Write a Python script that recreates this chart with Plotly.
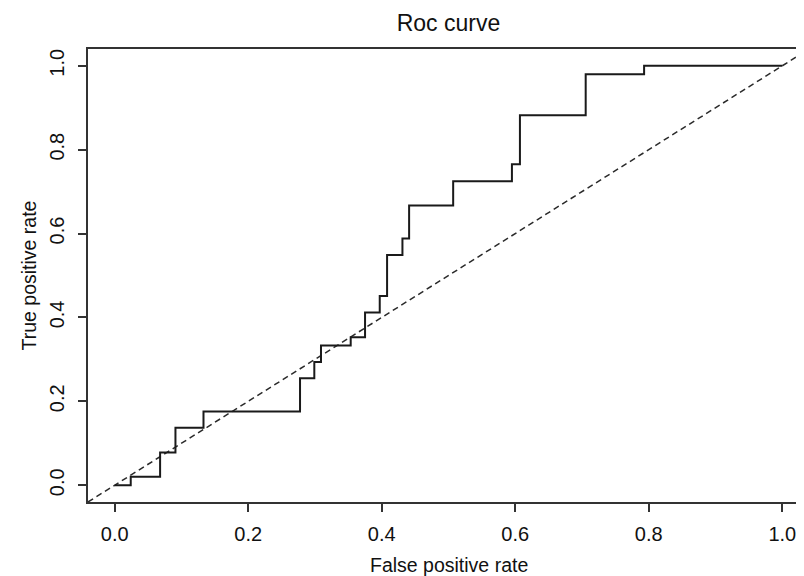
import plotly.graph_objects as go

# ROC curve vertices (false positive rate, true positive rate)
fpr = [0.0, 0.024, 0.024, 0.068, 0.068, 0.091, 0.091, 0.133, 0.133, 0.2776, 0.2776,
       0.299, 0.299, 0.309, 0.309, 0.3535, 0.3535, 0.375, 0.375, 0.397, 0.397,
       0.408, 0.408, 0.431, 0.431, 0.441, 0.441, 0.507, 0.507, 0.595, 0.595,
       0.607, 0.607, 0.7055, 0.7055, 0.793, 0.793, 1.0]
tpr = [0.0, 0.0, 0.020, 0.020, 0.078, 0.078, 0.137, 0.137, 0.176, 0.176, 0.255,
       0.255, 0.294, 0.294, 0.333, 0.333, 0.353, 0.353, 0.412, 0.412, 0.451,
       0.451, 0.549, 0.549, 0.588, 0.588, 0.667, 0.667, 0.725, 0.725, 0.765,
       0.765, 0.882, 0.882, 0.980, 0.980, 1.0, 1.0]

# Chance diagonal (abline 0,1) spanning the whole axis range
axis_range = [-0.04, 1.04]
tick_vals = [0.0, 0.2, 0.4, 0.6, 0.8, 1.0]
tick_text = ["0.0", "0.2", "0.4", "0.6", "0.8", "1.0"]

FONT = "Liberation Sans, Arial, sans-serif"
INK = "#111111"

W, H = 804, 576
ML, MR, MT, MB = 80, 3, 41, 82
PW, PH = W - ML - MR, H - MT - MB

fig = go.Figure()
fig.add_trace(go.Scatter(
    x=axis_range, y=axis_range, mode="lines",
    line=dict(color="#2a2a2a", width=1.5, dash="6px,4px"),
    hoverinfo="skip", showlegend=False))
fig.add_trace(go.Scatter(
    x=fpr, y=tpr, mode="lines",
    line=dict(color="#1a1a1a", width=2),
    showlegend=False))

axis_common = dict(
    range=axis_range, tickmode="array", tickvals=tick_vals, ticktext=tick_text,
    showgrid=False, zeroline=False, showline=True, mirror=True,
    linecolor="#333333", linewidth=1.5, automargin=False,
    ticks="outside", ticklen=8, tickwidth=1.5, tickcolor="#333333",
    tickfont=dict(family=FONT, size=20, color=INK),
)

fig.update_layout(
    width=W, height=H,
    margin=dict(l=ML, r=MR, t=MT, b=MB),
    paper_bgcolor="white", plot_bgcolor="white",
    title=dict(text="Roc curve", x=0.5, xref="paper", xanchor="center",
               y=1 - 15 / H, yref="container", yanchor="middle",
               font=dict(family=FONT, size=23, color=INK)),
    xaxis=dict(**axis_common, ticklabelstandoff=5),
    yaxis=dict(**axis_common, tickangle=-90, ticklabelstandoff=6),
    annotations=[
        dict(text="False positive rate", xref="paper", yref="paper",
             x=0.5, y=-(557 - (MT + PH)) / PH, xanchor="center", yanchor="middle",
             showarrow=False, font=dict(family=FONT, size=19.5, color=INK)),
        dict(text="True positive rate", xref="paper", yref="paper",
             x=-(ML - 20) / PW, y=0.5, xanchor="center", yanchor="middle",
             textangle=-90, showarrow=False,
             font=dict(family=FONT, size=19.5, color=INK)),
    ],
)

fig.write_html("out.html")
